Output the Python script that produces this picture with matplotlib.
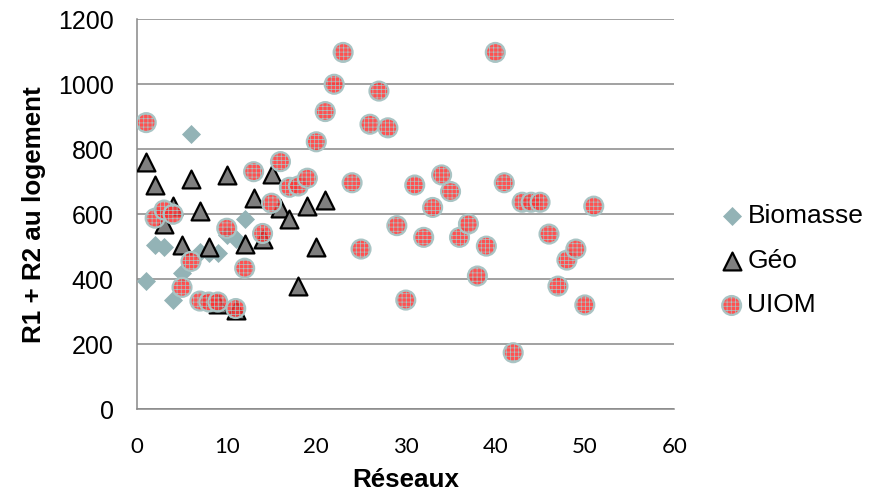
#importing libraries
import numpy as np
import matplotlib
matplotlib.use("Agg")
import matplotlib.pyplot as plt

#values (x = network number, y = R1 + R2)
bio_x = [1, 2, 3, 4, 5, 6, 7, 8, 9, 10, 11, 12]
bio_y = [395, 505, 500, 335, 420, 847, 485, 480, 480, 535, 525, 585]

geo_x = [1, 2, 3, 4, 5, 6, 7, 8, 9, 10, 11, 12, 13, 14, 15, 16, 17, 18, 19, 20, 21]
geo_y = [760, 690, 570, 625, 505, 710, 610, 500, 325, 720, 305,
         510, 650, 525, 725, 620, 585, 380, 625, 500, 645]

uiom_x = list(range(1, 52))
uiom_y = [882, 588, 613, 600, 375, 455, 333, 330, 330, 557,
          310, 434, 731, 541, 634, 762, 683, 687, 711, 823,
          916, 1000, 1098, 697, 493, 877, 979, 866, 565, 336,
          690, 529, 621, 721, 670, 529, 570, 410, 502, 1098,
          697, 174, 637, 637, 637, 539, 379, 459, 493, 321,
          625]

series_names = ["Biomasse", "Géo", "UIOM"]

#fonts and hatch settings
plt.rcParams['font.family'] = ['Liberation Sans', 'DejaVu Sans']
plt.rcParams['hatch.color'] = '#e80000'
plt.rcParams['hatch.linewidth'] = 0.5

fig = plt.figure(figsize=(8.81, 4.94), dpi=100)
ax = fig.add_axes([0.1558, 0.1715, 0.6096, 0.7895])

ax.scatter(bio_x, bio_y, marker='D', s=94, color='#93b3b6',
           linewidths=0, label=series_names[0], zorder=3)
ax.scatter(geo_x, geo_y, marker='^', s=165, facecolor='#7f7f7f',
           edgecolor='black', linewidths=1.6, label=series_names[1], zorder=4)
ax.scatter(uiom_x, uiom_y, marker='o', s=185, facecolor=(1, 0.2, 0.2, 0.85),
           edgecolor='#a9c4c4', linewidths=1.6, hatch='++++',
           label=series_names[2], zorder=5)

#axes limits and ticks
ax.set_xlim(0, 60)
ax.set_ylim(0, 1200)
ax.set_xticks(np.arange(0, 61, 10))
ax.set_yticks(np.arange(0, 1201, 200))
ax.tick_params(length=0)
ax.tick_params(axis='x', pad=20, labelsize=16)
ax.tick_params(axis='y', pad=17, labelsize=18)
for lab in ax.get_xticklabels():
    lab.set_fontfamily('Lato')

ax.grid(axis='y', color='#888888', linewidth=1.1)
ax.set_axisbelow(True)
for side in ['top', 'right']:
    ax.spines[side].set_visible(False)
for side in ['left', 'bottom']:
    ax.spines[side].set_color('#888888')
    ax.spines[side].set_linewidth(1.1)

ax.set_xlabel("Réseaux", fontsize=18.7, fontweight='bold')
ax.set_ylabel("R1 + R2 au logement", fontsize=18.7, fontweight='bold')
ax.xaxis.set_label_coords(0.5, -0.150)
ax.yaxis.set_label_coords(-0.17, 0.5)

#legend on the right, no frame
fig.legend(loc='center left', bbox_to_anchor=(0.8005, 0.472), frameon=False,
           fontsize=19, handletextpad=0.0, handlelength=1.2,
           labelspacing=0.78, borderaxespad=0)

plt.savefig("out.png", dpi=100)
